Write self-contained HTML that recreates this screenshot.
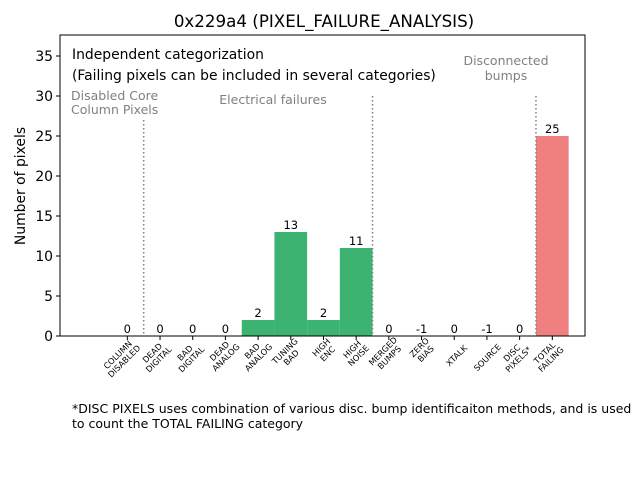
<!DOCTYPE html>
<html><head><meta charset="utf-8"><style>
body{margin:0;background:#fff}
svg{font-family:"DejaVu Sans","Liberation Sans",sans-serif}
</style></head><body>
<svg id="chart" width="640" height="480" viewBox="0 0 640 480">
<rect width="640" height="480" fill="#fff"/>
<text x="324" y="27" text-anchor="middle" font-size="16.7">0x229a4 (PIXEL_FAILURE_ANALYSIS)</text>
<g id="marks"></g>
<rect x="60" y="35" width="525" height="301" fill="none" stroke="#000" stroke-width="1"/>
<text transform="translate(25,186) rotate(-90)" text-anchor="middle" font-size="13.9">Number of pixels</text>
<text x="72" y="59" font-size="13.9">Independent categorization</text>
<text x="72" y="80" font-size="13.9">(Failing pixels can be included in several categories)</text>
<text x="71" y="100" font-size="12.5" fill="#808080">Disabled Core</text>
<text x="71" y="114" font-size="12.5" fill="#808080">Column Pixels</text>
<text x="273" y="104" text-anchor="middle" font-size="12.5" fill="#808080">Electrical failures</text>
<text x="506" y="65" text-anchor="middle" font-size="12.5" fill="#808080">Disconnected</text>
<text x="506" y="80" text-anchor="middle" font-size="12.5" fill="#808080">bumps</text>
<text x="72" y="413" font-size="12.5">*DISC PIXELS uses combination of various disc. bump identificaiton methods, and is used</text>
<text x="72" y="428" font-size="12.5">to count the TOTAL FAILING category</text>
</svg>
<script>
const categories=[["COLUMN","DISABLED"],["DEAD","DIGITAL"],["BAD","DIGITAL"],["DEAD","ANALOG"],["BAD","ANALOG"],["TUNING","BAD"],["HIGH","ENC"],["HIGH","NOISE"],["MERGED","BUMPS"],["ZERO","BIAS"],["XTALK",""],["SOURCE",""],["DISC","PIXELS*"],["TOTAL","FAILING"]];
const values=[0,0,0,0,2,13,2,11,0,-1,0,-1,0,25];
const yTicks=[0,5,10,15,20,25,30,35];
const separators=[0.5,7.5,12.5];
const separatorTops=[27,30,30];
const NS="http://www.w3.org/2000/svg";
const X0=60,X1=585,Y0=336,Y1=35,xmin=-2.06,xmax=14.0,ymin=0,ymax=37.625;
const xs=v=>X0+(v-xmin)/(xmax-xmin)*(X1-X0);
const ys=v=>Y0-(v-ymin)/(ymax-ymin)*(Y0-Y1);
const g=document.getElementById('marks');
function mk(t,a){const e=document.createElementNS(NS,t);for(const k in a)e.setAttribute(k,a[k]);g.appendChild(e);return e;}
const bw=xs(1)-xs(0);
values.forEach((v,i)=>{
  const col=i===13?"#f08080":"#3cb371";
  if(v>0){const r=mk('rect',{x:xs(i)-bw/2,y:ys(v),width:bw,height:ys(0)-ys(v),fill:col});
  
  }
  const t=mk('text',{x:xs(i),y:ys(Math.max(v,0))-3,'text-anchor':'middle','font-size':'11.5'});
  t.textContent=v;
  
  
});
separators.forEach((s,k)=>{
  const l=mk('line',{x1:xs(s),x2:xs(s),y1:ys(separatorTops[k]),y2:ys(0),stroke:'#808080','stroke-width':1.5,'stroke-dasharray':'1.5,2.5'});
  
  
});
yTicks.forEach(t=>{
  const l=mk('line',{x1:X0-4,x2:X0,y1:ys(t),y2:ys(t),stroke:'#000'});
  
  
  const tx=mk('text',{x:X0-7,y:ys(t)+5,'text-anchor':'end','font-size':'13.9'});
  tx.textContent=t;
  
  
});
categories.forEach((c,i)=>{
  const x=xs(i);
  const l=mk('line',{x1:x,x2:x,y1:Y0,y2:Y0+4,stroke:'#000'});
  
  
  const t=mk('text',{transform:`translate(${x+10},${Y0+9}) rotate(-45)`,'text-anchor':'middle','font-size':'8.3'});
  
  
  const lines=c[1]?c:[c[0]];
  lines.forEach((s,j)=>{const ts=document.createElementNS(NS,'tspan');ts.setAttribute('x',-(lines.length===1?s.length*2.6:Math.max(c[0].length,c[1].length)*2.6));ts.setAttribute('y',j*9-(lines.length-1)*9+5);ts.textContent=s;t.appendChild(ts);});
});
</script>
</body></html>
